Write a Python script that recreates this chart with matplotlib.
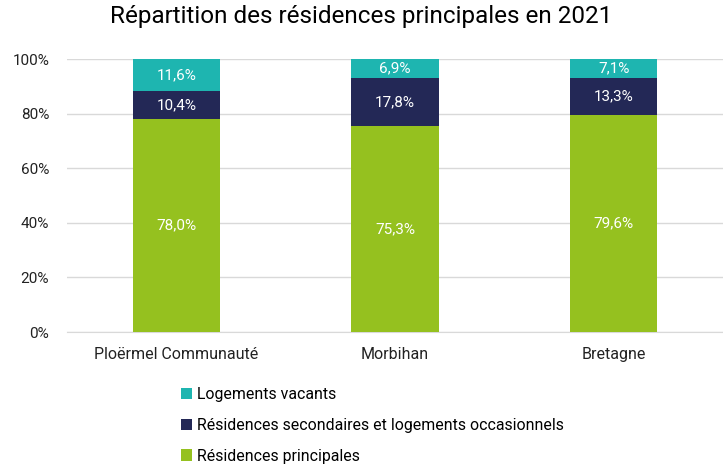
import matplotlib.pyplot as plt
import numpy as np

plt.rcParams['font.family'] = ['Roboto', 'DejaVu Sans']

territoires = ['Ploërmel Communauté', 'Morbihan', 'Bretagne']
principales = [78.0, 75.3, 79.6]
secondaires = [10.4, 17.8, 13.3]
vacants = [11.6, 6.9, 7.1]

series = [
    ('Résidences principales', principales, '#95C11F'),
    ('Résidences secondaires et logements occasionnels', secondaires, '#232856'),
    ('Logements vacants', vacants, '#1EB5B0'),
]

fig = plt.figure(figsize=(7.23, 4.65), dpi=100)
ax = fig.add_axes([0.093, 0.286, 0.907, 0.587])

x = np.arange(len(territoires))
bottom = np.zeros(len(territoires))
handles = []
for label, vals, color in series:
    vals = np.array(vals)
    b = ax.bar(x, vals, 0.4, bottom=bottom, color=color, label=label, zorder=3)
    handles.append(b)
    for xi, v, bo in zip(x, vals, bottom):
        ax.text(xi, bo + v / 2, f'{v:.1f}'.replace('.', ',') + '%', ha='center', va='center',
                color='white', fontsize=11, zorder=4)
    bottom += vals

ax.set_xlim(-0.5, 2.5)
ax.set_ylim(0, 100)
ax.set_yticks(range(0, 101, 20))
ax.set_yticklabels([f'{t}%' for t in range(0, 101, 20)])
ax.set_xticks(x)
ax.set_xticklabels(territoires)
ax.tick_params(length=0, labelsize=11.5, colors='#222222')
ax.tick_params(axis='y', labelsize=11, pad=13)
ax.tick_params(axis='x', pad=11)
ax.grid(axis='y', color='#D9D9D9', linewidth=1, zorder=0)
for s in ['top', 'right', 'left']:
    ax.spines[s].set_visible(False)
ax.spines['bottom'].set_color('#D9D9D9')

fig.suptitle('Répartition des résidences principales en 2021', fontsize=17.5, y=0.99, x=0.5)

fig.legend(handles[::-1], [s[0] for s in series][::-1], loc='upper left',
           bbox_to_anchor=(0.25, 0.168), frameon=False, fontsize=11.4,
           handlelength=0.7, handleheight=0.7, handletextpad=0.3, labelspacing=1.0,
           borderaxespad=0, borderpad=0)

fig.savefig('out.png', dpi=100)
